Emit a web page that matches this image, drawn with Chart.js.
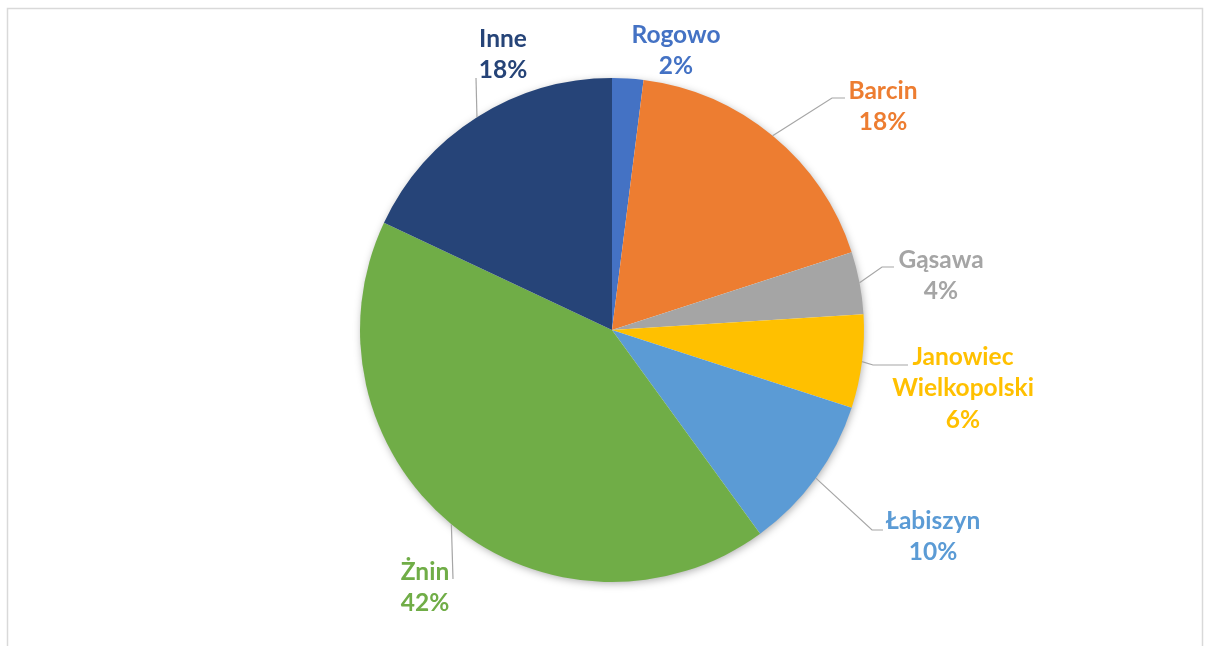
<!DOCTYPE html>
<html>
<head>
<meta charset="utf-8">
<script src="https://cdn.jsdelivr.net/npm/chart.js@4"></script>
<style>
  html, body { margin: 0; padding: 0; background: #fff; }
  #wrap { width: 1206px; height: 646px; }
</style>
</head>
<body>
<div id="wrap"><canvas id="pie" width="1206" height="646"></canvas></div>
<script>
const categories = ['Rogowo', 'Barcin', 'Gąsawa', ['Janowiec', 'Wielkopolski'], 'Łabiszyn', 'Żnin', 'Inne'];
const shares = [2, 18, 4, 6, 10, 42, 18];
const colors = ['#4472C4', '#ED7D31', '#A5A5A5', '#FFC000', '#5B9BD5', '#70AD47', '#264478'];

// label placement relative to pie centre (first text line middle), plus leader elbow/end
const labelLayout = [
    { x: 64, y: -295 },
    { x: 271, y: -239, elbow: [220, -232], end: [233, -232] },
    { x: 329, y: -70, elbow: [270, -63], end: [282, -63] },
    { x: 351, y: 27, elbow: [261, 35], end: [296, 35] },
    { x: 321, y: 191, elbow: [260, 200], end: [271, 200] },
    { x: -187, y: 242, elbow: [-159, 249], end: [-159, 249] },
    { x: -109, y: -291, elbow: [-136, -252], end: [-136, -252] }
];

const framePlugin = {
    id: 'frame',
    beforeDraw(chart) {
        const c = chart.ctx;
        c.save();
        c.fillStyle = '#fff';
        c.fillRect(0, 0, chart.width, chart.height);
        c.strokeStyle = '#D9D9D9';
        c.lineWidth = 1.5;
        c.strokeRect(7.5, 8.5, 1195, 700);
        c.restore();
    },
    beforeDatasetsDraw(chart) {
        // soft shadow under the whole pie
        const arc = chart.getDatasetMeta(0).data[0];
        const c = chart.ctx;
        c.save();
        c.shadowColor = 'rgba(0,0,0,0.35)';
        c.shadowBlur = 9;
        c.shadowOffsetX = 1;
        c.shadowOffsetY = 2;
        c.fillStyle = '#fff';
        c.beginPath();
        c.arc(arc.x, arc.y, arc.outerRadius - 1, 0, Math.PI * 2);
        c.fill();
        c.restore();
    }
};

const labelPlugin = {
    id: 'pieLabels',
    afterDatasetsDraw(chart) {
        const c = chart.ctx;
        const meta = chart.getDatasetMeta(0);
        const total = shares.reduce((a, b) => a + b, 0);
        c.save();
        c.font = 'bold 24.5px Lato';
        c.textAlign = 'center';
        c.textBaseline = 'middle';
        meta.data.forEach((arc, i) => {
            const cx = arc.x, cy = arc.y;
            const lay = labelLayout[i];
            if (lay.elbow) {
                const mid = (arc.startAngle + arc.endAngle) / 2;
                c.strokeStyle = '#A6A6A6';
                c.lineWidth = 1.2;
                c.beginPath();
                c.moveTo(cx + Math.cos(mid) * arc.outerRadius, cy + Math.sin(mid) * arc.outerRadius);
                c.lineTo(cx + lay.elbow[0], cy + lay.elbow[1]);
                c.lineTo(cx + lay.end[0], cy + lay.end[1]);
                c.stroke();
            }
            const name = categories[i];
            const lines = (Array.isArray(name) ? name : [name]).concat(Math.round(shares[i] / total * 100) + '%');
            c.fillStyle = colors[i];
            lines.forEach((t, k) => c.fillText(t, cx + lay.x, cy + lay.y + k * 31.5));
        });
        c.restore();
    }
};

new Chart(document.getElementById('pie'), {
    type: 'pie',
    data: {
        labels: categories,
        datasets: [{
            data: shares,
            backgroundColor: colors,
            borderWidth: 0
        }]
    },
    options: {
        responsive: false,
        animation: false,
        layout: { padding: { left: 18, right: 0, top: 78, bottom: 64 } },
        plugins: {
            legend: { display: false },
            tooltip: { enabled: false }
        }
    },
    plugins: [framePlugin, labelPlugin]
});
</script>
</body>
</html>
